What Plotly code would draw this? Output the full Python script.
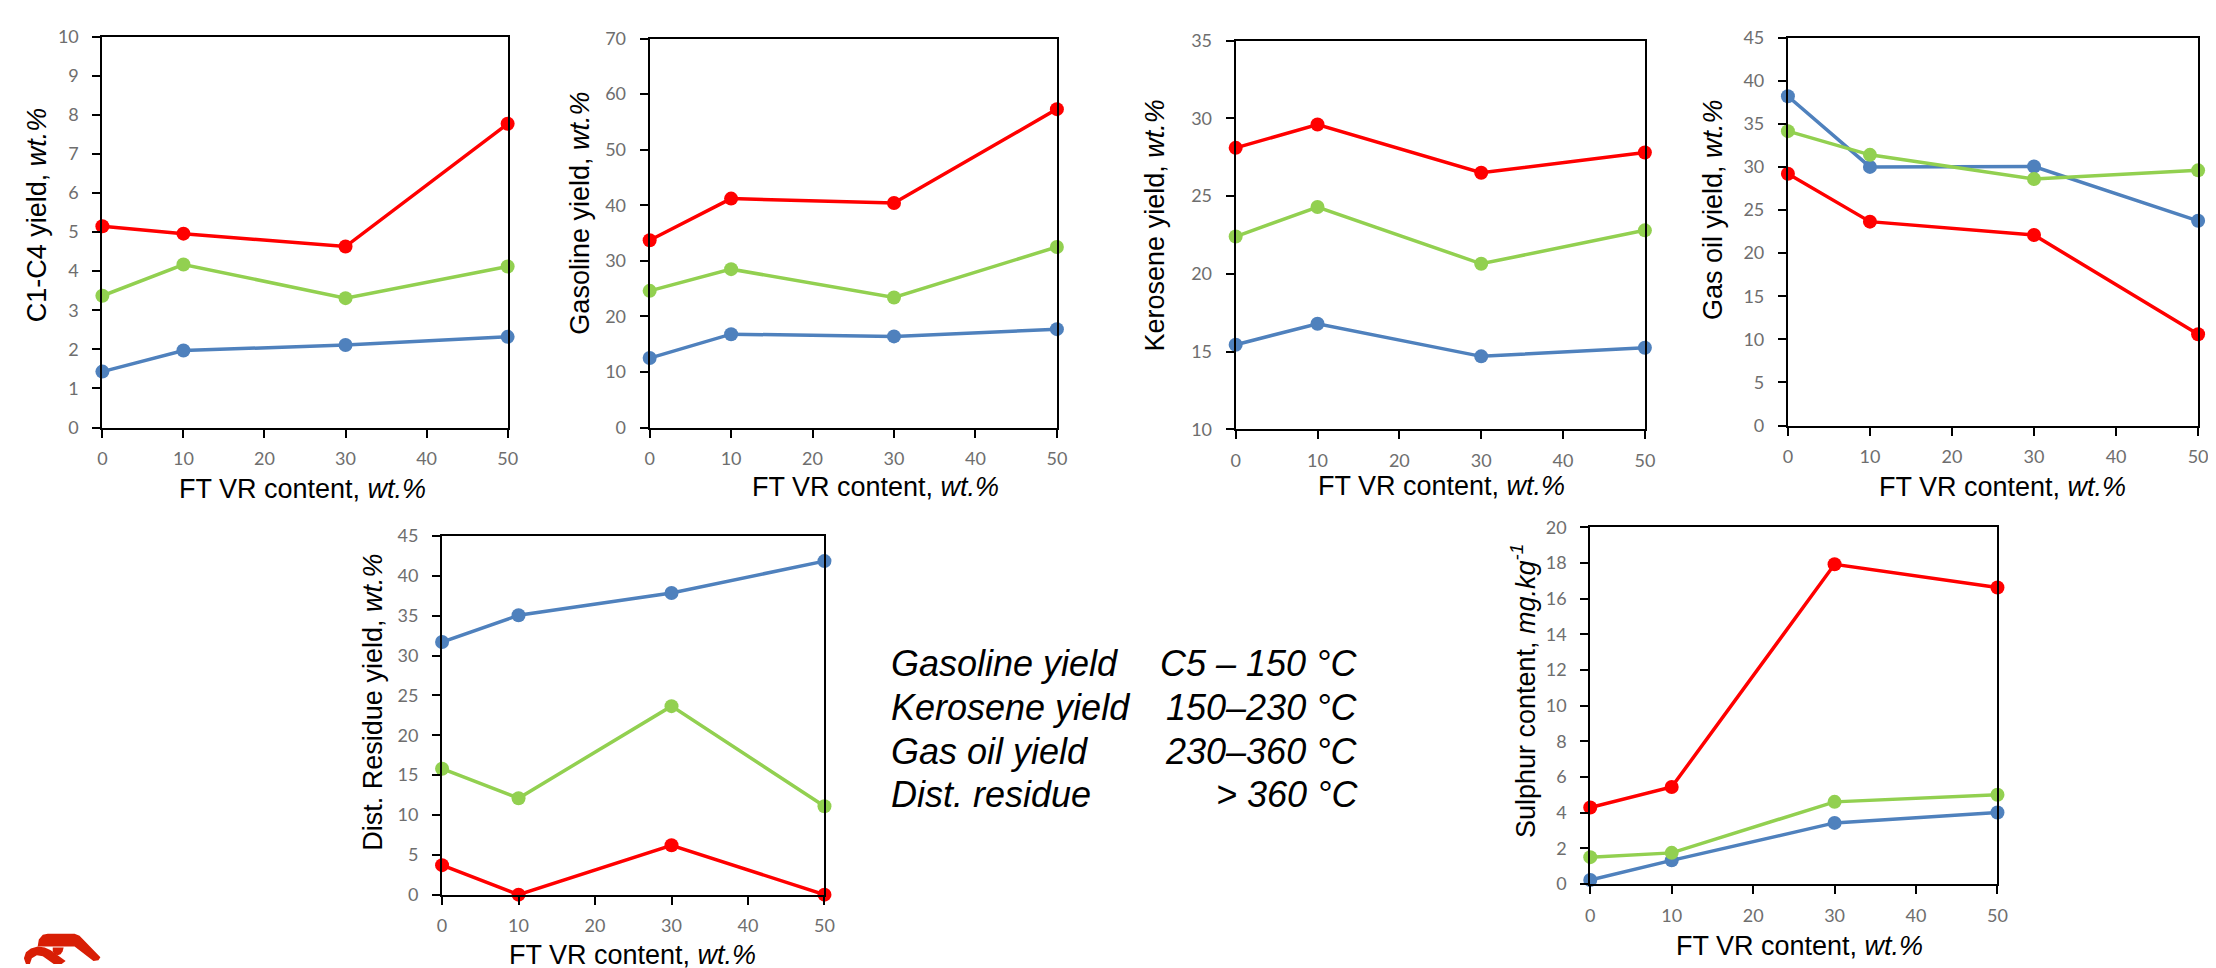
import plotly.graph_objects as go

W, H = 2216, 968

# ---------------- data ----------------
ft_vr = [0, 10, 30, 50]

c1c4_red = [5.15, 4.96, 4.63, 7.77]
c1c4_green = [3.37, 4.17, 3.31, 4.12]
c1c4_blue = [1.43, 1.97, 2.11, 2.32]

gasoline_red = [33.7, 41.2, 40.4, 57.3]
gasoline_green = [24.6, 28.5, 23.4, 32.5]
gasoline_blue = [12.5, 16.8, 16.4, 17.7]

kerosene_red = [28.1, 29.6, 26.5, 27.8]
kerosene_green = [22.4, 24.3, 20.65, 22.8]
kerosene_blue = [15.45, 16.8, 14.7, 15.25]

gasoil_red = [29.2, 23.65, 22.1, 10.6]
gasoil_green = [34.15, 31.4, 28.6, 29.6]
gasoil_blue = [38.2, 30.0, 30.05, 23.75]

residue_red = [3.7, 0.0, 6.2, 0.0]
residue_green = [15.8, 12.1, 23.65, 11.1]
residue_blue = [31.7, 35.05, 37.85, 41.85]

sulphur_red = [4.28, 5.43, 17.92, 16.62]
sulphur_green = [1.5, 1.74, 4.6, 5.0]
sulphur_blue = [0.22, 1.32, 3.42, 4.0]

x_ticks = [0, 10, 20, 30, 40, 50]

ytitles = [
    "C1-C4 yield, <i>wt.%</i>",
    "Gasoline yield, <i>wt.%</i>",
    "Kerosene yield, <i>wt.%</i>",
    "Gas oil yield, <i>wt.%</i>",
    "Dist. Residue yield, <i>wt.%</i>",
    "Sulphur content, <i>mg.kg<sup>-1</sup></i>",
]
xtitle = "FT VR content, <i>wt.%</i>"

legend_left = ["Gasoline yield", "Kerosene yield", "Gas oil yield", "Dist. residue"]
legend_right = ["C5 – 150 °C", "150–230 °C", "230–360 °C", "> 360 °C"]

# ---------------- styling / layout ----------------
RED, GREEN, BLUE = "#ff0000", "#92d050", "#4f81bd"
FONT = "Liberation Sans, Arial, sans-serif"
TICKFONT = dict(family="Lato, Open Sans, sans-serif", size=18, color="#6e6e6e")

# (left, right, top, bottom) pixel boxes, y range, dtick, ytitle pos, xtitle pos
panels = [
    dict(box=(90, 498, 17, 417), yr=[0, 10], dt=1,
         series=(c1c4_blue, c1c4_green, c1c4_red), yt=(25, 199), xt=(291, 480)),
    dict(box=(641, 1051, 19, 417), yr=[0, 70], dt=10,
         series=(gasoline_blue, gasoline_green, gasoline_red), yt=(570, 198), xt=(868, 478)),
    dict(box=(1231, 1643, 21, 419), yr=[10, 35], dt=5,
         series=(kerosene_blue, kerosene_green, kerosene_red), yt=(1150, 210), xt=(1438, 477)),
    dict(box=(1787, 2200, 18, 415), yr=[0, 45], dt=5,
         series=(gasoil_blue, gasoil_green, gasoil_red), yt=(1711, 194), xt=(2003, 478)),
    dict(box=(432, 817, 528, 895), yr=[0, 45], dt=5,
         series=(residue_blue, residue_green, residue_red), yt=(363, 698), xt=(624, 957)),
    dict(box=(1588, 1998, 519, 884), yr=[0, 20], dt=2,
         series=(sulphur_blue, sulphur_green, sulphur_red), yt=(1521, 687), xt=(1799, 948)),
]

def px(x):
    return x / W

def py(y):
    return 1 - y / H

fig = go.Figure()
annotations = []
layout_axes = {}

for i, p in enumerate(panels):
    n = "" if i == 0 else str(i + 1)
    l, r, t, b = p["box"]
    for ys, col in zip(p["series"], (BLUE, GREEN, RED)):
        fig.add_trace(go.Scatter(
            x=ft_vr, y=ys, mode="lines+markers",
            line=dict(color=col, width=3.5),
            marker=dict(color=col, size=14),
            xaxis="x" + n, yaxis="y" + n,
            cliponaxis=False, showlegend=False,
        ))
    layout_axes["xaxis" + n] = dict(
        domain=[px(l), px(r)], anchor="y" + n, range=[0, 50],
        tickvals=x_ticks, ticks="outside", ticklen=8, tickwidth=2, tickcolor="black",
        showline=True, linecolor="black", linewidth=2, mirror=True,
        showgrid=False, zeroline=False, tickfont=TICKFONT, ticklabelstandoff=6,
    )
    layout_axes["yaxis" + n] = dict(
        domain=[py(b), py(t)], anchor="x" + n, range=p["yr"], dtick=p["dt"],
        tick0=p["yr"][0],
        ticks="outside", ticklen=8, tickwidth=2, tickcolor="black",
        showline=True, linecolor="black", linewidth=2, mirror=True,
        showgrid=False, zeroline=False, tickfont=TICKFONT, ticklabelstandoff=10,
    )
    annotations.append(dict(
        text=ytitles[i], x=px(p["yt"][0]), y=py(p["yt"][1]), xref="paper", yref="paper",
        textangle=-90, showarrow=False, xanchor="center", yanchor="middle",
        font=dict(family=FONT, size=27, color="black"),
    ))
    annotations.append(dict(
        text=xtitle, x=px(p["xt"][0]), y=py(p["xt"][1]), xref="paper", yref="paper",
        showarrow=False, xanchor="center", yanchor="middle",
        font=dict(family=FONT, size=27, color="black"),
    ))

# text block with temperature ranges
line_y = [658, 703, 748, 792]
for ly, lt, rt in zip(line_y, legend_left, legend_right):
    annotations.append(dict(
        text="<i>" + lt + "</i>", x=px(882), y=py(ly), xref="paper", yref="paper",
        showarrow=False, xanchor="left", yanchor="middle",
        font=dict(family=FONT, size=36, color="black"),
    ))
    annotations.append(dict(
        text="<i>" + rt + "</i>", x=px(1356), y=py(ly), xref="paper", yref="paper",
        showarrow=False, xanchor="right", yanchor="middle",
        font=dict(family=FONT, size=36, color="black"),
    ))

# logo decoration (bottom-left)
def path(points):
    return "M " + " L ".join(f"{px(a):.5f},{py(b):.5f}" for a, b in points) + " Z"

LOGO = "#d81e05"
shapes = [
    dict(type="path", xref="paper", yref="paper", line=dict(width=0), fillcolor=LOGO,
         path=path([(25, 947), (26, 941), (30, 936), (35, 935), (62, 935), (67, 937),
                    (88, 959), (86, 962), (81, 963), (62, 948), (25, 948)])),
    dict(type="path", xref="paper", yref="paper", line=dict(width=0), fillcolor=LOGO,
         path=path([(13, 966), (11, 960), (13, 954), (18, 950), (25, 948), (32, 949),
                    (38, 952), (53, 963), (49, 966), (41, 966), (30, 958), (24, 957),
                    (19, 960), (17, 966)])),
    dict(type="path", xref="paper", yref="paper", line=dict(width=0), fillcolor=LOGO,
         path=path([(40, 949), (51, 949), (50, 953), (48, 956), (45, 957), (42, 956),
                    (40, 953)])),
]

fig.update_layout(
    width=W, height=H, margin=dict(l=0, r=0, t=0, b=0),
    paper_bgcolor="white", plot_bgcolor="white",
    annotations=annotations, shapes=shapes, showlegend=False,
    **layout_axes,
)

fig.write_html("out.html")
